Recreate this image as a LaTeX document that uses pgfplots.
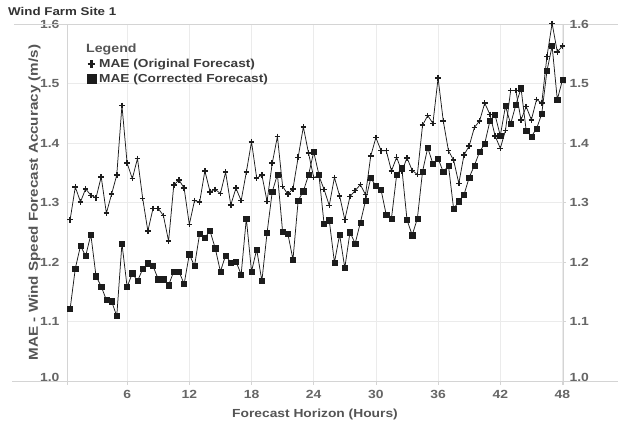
\documentclass[border=0pt]{standalone}
\usepackage{pgfplots}
\pgfplotsset{compat=1.18}
\usepackage{pgfplotstable}
\usepackage{fontspec}
\setmainfont{Liberation Sans}[FakeStretch=1.18]
\definecolor{tickc}{HTML}{666666}
\definecolor{titlec}{HTML}{333333}
\definecolor{labc}{HTML}{555555}
\definecolor{legc}{HTML}{3C3C3C}
\definecolor{gridc}{HTML}{EBEBEB}
\definecolor{framec}{HTML}{D4D4D4}
\definecolor{datac}{HTML}{1C1C1C}

\pgfplotstableread{
h orig corr
0.5 1.271 1.121
1.0 1.326 1.189
1.5 1.301 1.227
2.0 1.323 1.210
2.5 1.312 1.246
3.0 1.308 1.176
3.5 1.343 1.159
4.0 1.282 1.136
4.5 1.314 1.134
5.0 1.346 1.109
5.5 1.463 1.231
6.0 1.366 1.158
6.5 1.340 1.181
7.0 1.374 1.168
7.5 1.307 1.188
8.0 1.252 1.198
8.5 1.290 1.193
9.0 1.290 1.171
9.5 1.278 1.171
10.0 1.235 1.161
10.5 1.329 1.184
11.0 1.338 1.184
11.5 1.324 1.163
12.0 1.263 1.213
12.5 1.303 1.193
13.0 1.301 1.248
13.5 1.353 1.241
14.0 1.318 1.252
14.5 1.322 1.223
15.0 1.315 1.184
15.5 1.351 1.211
16.0 1.296 1.199
16.5 1.324 1.201
17.0 1.303 1.179
17.5 1.351 1.273
18.0 1.402 1.184
18.5 1.341 1.221
19.0 1.346 1.168
19.5 1.302 1.249
20.0 1.366 1.318
20.5 1.411 1.347
21.0 1.327 1.251
21.5 1.314 1.248
22.0 1.323 1.204
22.5 1.376 1.303
23.0 1.427 1.319
23.5 1.383 1.346
24.0 1.342 1.385
24.5 1.345 1.347
25.0 1.322 1.264
25.5 1.295 1.270
26.0 1.342 1.199
26.5 1.311 1.246
27.0 1.271 1.190
27.5 1.310 1.250
28.0 1.320 1.231
28.5 1.330 1.266
29.0 1.313 1.303
29.5 1.378 1.341
30.0 1.409 1.328
30.5 1.387 1.321
31.0 1.387 1.279
31.5 1.353 1.273
32.0 1.376 1.346
32.5 1.352 1.358
33.0 1.375 1.271
33.5 1.354 1.245
34.0 1.347 1.273
34.5 1.430 1.352
35.0 1.446 1.392
35.5 1.433 1.365
36.0 1.509 1.374
36.5 1.437 1.351
37.0 1.387 1.362
37.5 1.371 1.289
38.0 1.332 1.302
38.5 1.380 1.313
39.0 1.395 1.342
39.5 1.426 1.362
40.0 1.437 1.385
40.5 1.467 1.399
41.0 1.448 1.437
41.5 1.412 1.447
42.0 1.391 1.412
42.5 1.421 1.462
43.0 1.488 1.432
43.5 1.488 1.464
44.0 1.439 1.492
44.5 1.461 1.421
45.0 1.439 1.411
45.5 1.473 1.424
46.0 1.467 1.449
46.5 1.545 1.521
47.0 1.601 1.563
47.5 1.553 1.473
48.0 1.563 1.506
}\datatable

\newcommand\tickfont{\bfseries\fontsize{11.8}{13}\selectfont}
\newcommand\legfont{\bfseries\fontsize{11.6}{13}\selectfont}

\begin{document}
\begin{tikzpicture}
\begin{axis}[
  scale only axis, width=496pt, height=357pt,
  xmin=0.2, xmax=48.05, ymin=1.0, ymax=1.6,
  clip=false,
  axis line style={draw=none},
  xtick={6,12,18,24,30,36,42,48},
  xticklabels={6,12,18,24,30,36,42,48},
  ytick={1.0,1.1,1.2,1.3,1.4,1.5,1.6},
  yticklabels={\raisebox{8pt}{1.0},1.1,1.2,1.3,1.4,1.5,\raisebox{-9pt}{1.6}},
  xtick pos=lower, ytick pos=left,
  tick align=outside,
  major tick length=4pt,
  xtick style={draw=framec, line width=0.8pt},
  ytick style={draw=none},
  xticklabel style={font=\tickfont, text=tickc, yshift=-1.5pt},
  yticklabel style={font=\tickfont, text=tickc},
  grid=major,
  major grid style={draw=gridc, line width=0.8pt},
  xlabel={Forecast Horizon (Hours)},
  xlabel style={at={(rel axis cs:0.5,-0.1017)}, anchor=base, font=\bfseries\fontsize{11.7}{13}\selectfont, text=labc},
  ylabel={MAE - Wind Speed Forecast Accuracy (m/s)},
  ylabel style={at={(rel axis cs:-0.0655,0.5)}, anchor=center, font=\bfseries\fontsize{12.9}{14}\selectfont, text=labc},
  legend style={at={(rel axis cs:0.0397,0.9056)}, anchor=north west, draw=none, fill=none, inner sep=0pt,
    font=\legfont, text=legc, row sep=1.6pt, column sep=1.5pt, nodes={inner sep=1.5pt}},
  legend cell align=left,
  legend image code/.code={\draw[mark repeat=2,mark phase=2,#1] plot coordinates {(0cm,0cm)(0.17cm,0cm)(0.34cm,0cm)};},
]
\coordinate (bbll) at (rel axis cs:-0.1351,-0.1232);
\coordinate (bbur) at (rel axis cs:1.1109,1.0672);
\draw[framec, line width=0.9pt] (rel axis cs:-0.1069,1) -- (rel axis cs:1.1109,1);
\draw[framec, line width=0.9pt] (rel axis cs:-0.1109,0) -- (rel axis cs:1.1109,0);
\draw[framec, line width=0.9pt] (rel axis cs:0,-0.01) -- (rel axis cs:0,1);
\draw[framec, line width=0.9pt] (rel axis cs:1,-0.01) -- (rel axis cs:1,1);
\node[anchor=base west, inner sep=0pt, text=titlec, font=\bfseries\fontsize{11.3}{13}\selectfont] at (rel axis cs:-0.119,1.0224) {Wind Farm Site 1};
\node[anchor=base west, inner sep=0pt, text=labc, font=\bfseries\fontsize{12}{13}\selectfont] at (rel axis cs:0.0383,0.9207) {Legend};

\addplot[datac, line width=0.75pt, mark=+, mark size=2.8pt, mark options={line width=1.5pt}, forget plot] table[x=h,y=orig] {\datatable};
\addplot[datac, line width=0.75pt, mark=square*, mark size=2.6pt, mark options={solid, line width=0.5pt}, forget plot] table[x=h,y=corr] {\datatable};

\addlegendimage{only marks, mark=+, mark size=4pt, mark options={line width=2.2pt}, datac}
\addlegendentry{MAE (Original Forecast)}
\addlegendimage{only marks, mark=square*, mark size=4.6pt, datac}
\addlegendentry{MAE (Corrected Forecast)}
\end{axis}
\begin{axis}[
  scale only axis, width=496pt, height=357pt,
  xmin=0.2, xmax=48.05, ymin=1.0, ymax=1.6,
  hide x axis,
  axis y line*=right,
  axis line style={draw=none},
  ytick={1.0,1.1,1.2,1.3,1.4,1.5,1.6},
  yticklabels={\raisebox{8pt}{1.0},1.1,1.2,1.3,1.4,1.5,\raisebox{-9pt}{1.6}},
  tick align=outside,
  major tick length=3pt,
  ytick style={draw=framec, line width=0.8pt},
  yticklabel style={font=\tickfont, text=tickc},
]
\end{axis}
\pgfresetboundingbox
\useasboundingbox (bbll) rectangle (bbur);
\end{tikzpicture}
\end{document}
